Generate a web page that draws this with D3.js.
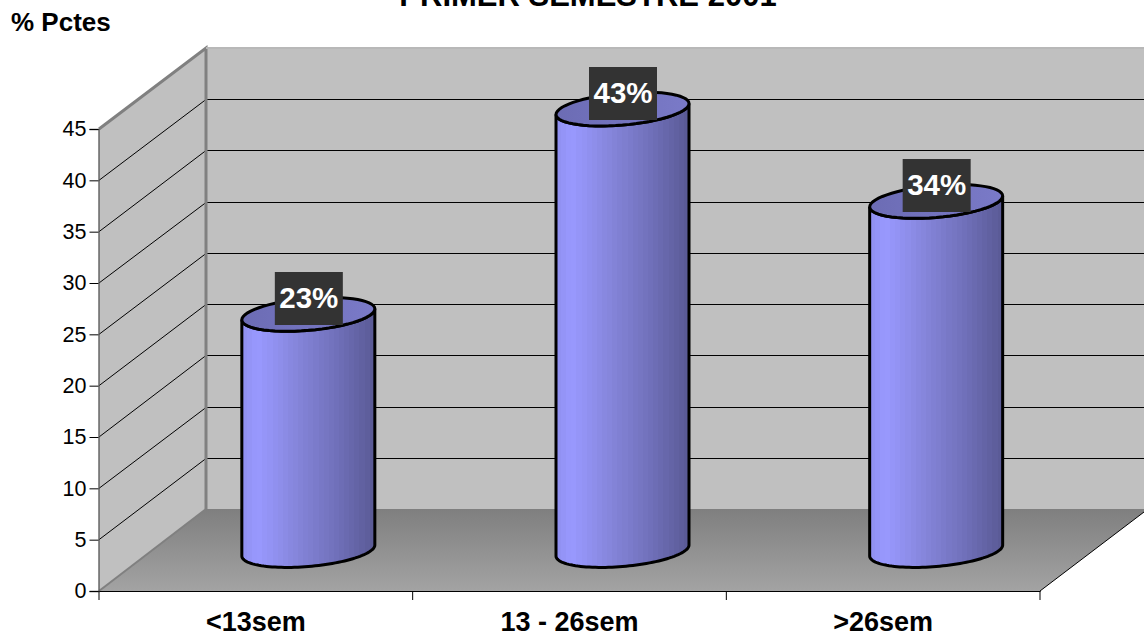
<!DOCTYPE html>
<html>
<head>
<meta charset="utf-8">
<script src="https://cdn.jsdelivr.net/npm/d3@7"></script>
<style>
  html, body { margin: 0; padding: 0; background: #fff; overflow: hidden; }
  svg { display: block; font-family: "Liberation Sans", Arial, sans-serif; }
</style>
</head>
<body>
<svg id="chart" width="1144" height="636"></svg>
<script>
const categories = ["<13sem", "13 - 26sem", ">26sem"];
const values = [23, 43, 34];
const valueLabels = ["23%", "43%", "34%"];
const yTicks = [0, 5, 10, 15, 20, 25, 30, 35, 40, 45];
const titleText = "PRIMER SEMESTRE 2001";
const axisTitle = "% Pctes";

const svg = d3.select("#chart");

// Front plane of the 3D box and the matching back plane
const x = d3.scaleBand().domain(categories).range([99, 1040]);
const y = d3.scaleLinear().domain([0, 45]).range([591, 129]);
const yBack = d3.scaleLinear().domain([0, 45]).range([509, 48]);
const xBack = 206;

const defs = svg.append("defs");
const floorGrad = defs.append("linearGradient").attr("id", "floorFill")
  .attr("x1", 0).attr("y1", 0).attr("x2", 0).attr("y2", 1);
floorGrad.append("stop").attr("offset", 0).attr("stop-color", "#7f7f7f");
floorGrad.append("stop").attr("offset", 1).attr("stop-color", "#a3a3a3");

const bodyStops = [[0, "#9090f0"], [0.12, "#9999ff"], [0.4, "#8686dc"], [0.7, "#7171bb"], [1, "#5a5a94"]];
const bodyColor = d3.scaleLinear().domain(bodyStops.map(d => d[0])).range(bodyStops.map(d => d[1]));
const bodyGrad = defs.append("linearGradient").attr("id", "bodyFill");
// Stepped stops give the banded shading of the cylinder sides
const bands = 26;
d3.range(bands).forEach(i => {
  const c = bodyColor((i + 0.5) / bands);
  bodyGrad.append("stop").attr("offset", i / bands).attr("stop-color", c);
  bodyGrad.append("stop").attr("offset", (i + 1) / bands).attr("stop-color", c);
});
const capGrad = defs.append("linearGradient").attr("id", "capFill");
capGrad.append("stop").attr("offset", 0).attr("stop-color", "#6c6cb4");
capGrad.append("stop").attr("offset", 1).attr("stop-color", "#7a7ac8");

// Walls and floor
const x0 = x.range()[0], x1 = x.range()[1];
const poly = pts => "M" + pts.map(p => p.join(",")).join("L") + "Z";
svg.append("path").attr("fill", "#c0c0c0")
  .attr("d", poly([[xBack, yBack(45)], [1144, yBack(45)], [1144, yBack(0)], [xBack, yBack(0)]]));
svg.append("path").attr("fill", "#c0c0c0")
  .attr("d", poly([[x0, y(45)], [xBack, yBack(45)], [xBack, yBack(0)], [x0, y(0)]]));
svg.append("path").attr("fill", "url(#floorFill)")
  .attr("d", poly([[x0, y(0)], [xBack, yBack(0)], [1144, yBack(0)], [1144, 512], [x1, y(0)]]));

// Gridlines along the side wall and back wall
const grid = svg.append("g").attr("fill", "none").attr("stroke", "#000").attr("stroke-width", 1);
yTicks.filter(t => t > 0 && t < 45).forEach(t => {
  grid.append("path").attr("d", `M${x0},${y(t)}L${xBack},${Math.round(yBack(t)) + 0.5}L1144,${Math.round(yBack(t)) + 0.5}`);
});

// Box edges
svg.append("path").attr("fill", "none").attr("stroke", "#808080").attr("stroke-width", 3)
  .attr("d", `M${x0},${y(45)}L${xBack},${yBack(45)}L${xBack},${yBack(0)}`);
svg.append("path").attr("fill", "none").attr("stroke", "#808080").attr("stroke-width", 2)
  .attr("d", `M${xBack},${yBack(0)}L${x0},${y(0)}`);
svg.append("path").attr("fill", "none").attr("stroke", "#b8b8b8").attr("stroke-width", 2)
  .attr("d", `M${xBack},${yBack(45)}L1144,${yBack(45)}`);
svg.append("path").attr("fill", "none").attr("stroke", "#000").attr("stroke-width", 1)
  .attr("d", `M${x1},${y(0)}L1144,512`);

// Cylinders
const radius = 66.5, tilt = 5.5, minor = 16;
const baseY = y(0) - 40.5;
const ring = (cx, cy, from, to) => d3.range(0, 61).map(i => {
  const t = from + (to - from) * i / 60;
  return [cx + radius * Math.cos(t), cy - tilt * Math.cos(t) + minor * Math.sin(t)];
});
const line = d3.line();
const bars = svg.append("g");
categories.forEach((c, i) => {
  const cx = x(c) + x.bandwidth() / 2 + 53.5 - [1, 0.5, 0.5][i];
  const top = baseY - (y(0) - y(values[i]));
  const front = ring(cx, baseY, 0, Math.PI);
  const capFront = ring(cx, top, Math.PI, 0);
  bars.append("path").attr("fill", "url(#bodyFill)").attr("stroke", "#000").attr("stroke-width", 3)
    .attr("d", line(front.concat(capFront)) + "Z");
  bars.append("path").attr("fill", "url(#capFill)").attr("stroke", "#000").attr("stroke-width", 3)
    .attr("d", line(ring(cx, top, 0, Math.PI * 2)) + "Z");
  bars.append("rect").attr("x", cx - 33.5).attr("y", Math.round(top) - 42).attr("width", 68).attr("height", 53).attr("fill", "#333");
  bars.append("text").attr("x", cx + 0.5).attr("y", top - 6).attr("text-anchor", "middle")
    .attr("fill", "#fff").attr("font-size", 29.5).attr("font-weight", "bold").text(valueLabels[i]);
});

// Value axis
const yAxis = svg.append("g").attr("transform", `translate(${x0 - 0.5},0)`)
  .call(d3.axisLeft(y).tickValues(yTicks).tickSize(9).tickPadding(3));
yAxis.select(".domain").attr("stroke", "#555").attr("stroke-width", 1.3);
yAxis.selectAll(".tick line").attr("stroke", "#000");
yAxis.selectAll("text").attr("font-size", 21.5).attr("font-family", "Liberation Sans").attr("fill", "#000");

// Category axis
const xAxis = svg.append("g").attr("transform", `translate(0,${y(0)})`)
  .call(d3.axisBottom(x).tickValues([]).tickSizeOuter(0));
xAxis.select(".domain").attr("stroke", "#000");
const xTicks = [x0].concat(categories.map(c => x(c) + x.bandwidth()));
svg.append("g").selectAll("line").data(xTicks).join("line")
  .attr("x1", d => d).attr("x2", d => d).attr("y1", y(0)).attr("y2", y(0) + 9)
  .attr("stroke", "#000");
svg.append("g").selectAll("text").data(categories).join("text")
  .attr("x", c => x(c) + x.bandwidth() / 2)
  .attr("y", 631).attr("text-anchor", "middle")
  .attr("font-size", 27).attr("font-weight", "bold").text(c => c);

// Titles
svg.append("text").attr("x", 588).attr("y", 6).attr("text-anchor", "middle")
  .attr("font-size", 31).attr("font-weight", "bold").text(titleText);
svg.append("text").attr("x", 11).attr("y", 31)
  .attr("font-size", 26).attr("font-weight", "bold").text(axisTitle);
</script>
</body>
</html>
